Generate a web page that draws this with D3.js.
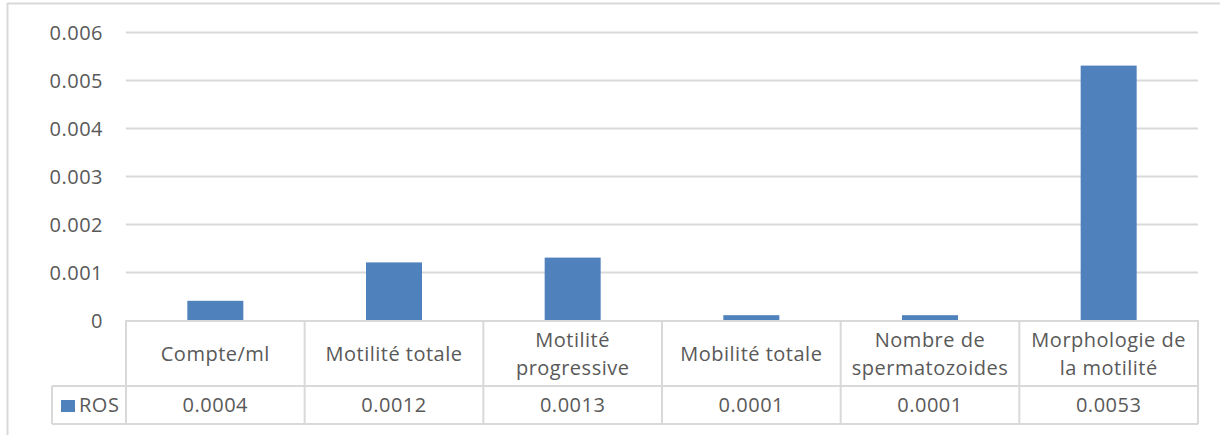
<!DOCTYPE html>
<html><head><meta charset="utf-8">
<script src="https://cdn.jsdelivr.net/npm/d3@7"></script>
<style>
html,body{margin:0;padding:0;background:#fff;}
svg{display:block;}
text{font-family:"Open Sans",Lato,"Liberation Sans",sans-serif;fill:#595959;letter-spacing:0.5px;}
</style></head><body>
<svg id="chart" width="1220" height="435"></svg>
<script>
const categories = [["Compte/ml"],["Motilité totale"],["Motilité","progressive"],["Mobilité totale"],["Nombre de","spermatozoides"],["Morphologie de","la motilité"]];
const seriesName = "ROS";
const values = [0.0004, 0.0012, 0.0013, 0.0001, 0.0001, 0.0053];
const valueLabels = ["0.0004","0.0012","0.0013","0.0001","0.0001","0.0053"];
const yTicks = [0, 0.001, 0.002, 0.003, 0.004, 0.005, 0.006];

(function(){
const svg = d3.select("#chart");
const grid = "#d9d9d9", color = "#4f81bd";
const pLeft = 126, pRight = 1198, pTop = 32, base = 320;
const catBottom = 386, tableBottom = 424, legendLeft = 52;
const fs = 20;
const ff = "'Open Sans',Lato,'Liberation Sans',sans-serif";

svg.append("line").attr("x1",7.5).attr("x2",7.5).attr("y1",3).attr("y2",435).attr("stroke",grid).attr("stroke-width",2);
svg.append("line").attr("x1",7).attr("x2",1220).attr("y1",3.5).attr("y2",3.5).attr("stroke",grid).attr("stroke-width",2);

const x = d3.scaleBand().domain(d3.range(categories.length)).range([pLeft,pRight]).paddingInner(0).paddingOuter(0);
const y = d3.scaleLinear().domain([0,0.006]).range([base,pTop]);

svg.append("g").selectAll("line").data(yTicks.slice(1)).join("line")
  .attr("x1",pLeft).attr("x2",pRight).attr("y1",d=>Math.round(y(d))+0.5).attr("y2",d=>Math.round(y(d))+0.5)
  .attr("stroke",grid).attr("stroke-width",2);

const yAxis = d3.axisLeft(y).tickValues(yTicks).tickFormat(d=>d===0?"0":d3.format(".3f")(d)).tickSize(0).tickPadding(0);
const ya = svg.append("g").attr("transform",`translate(103,0)`).call(yAxis);
ya.select(".domain").remove();
ya.selectAll("text").attr("font-size",fs).attr("fill","#595959").attr("dy","0.35em").style("font-family",ff);

const bw = 56;
svg.append("g").selectAll("rect").data(values).join("rect")
  .attr("x",(d,i)=>x(i)+x.bandwidth()/2-bw/2).attr("width",bw)
  .attr("y",d=>y(d)).attr("height",d=>base-y(d)).attr("fill",color);

const t = svg.append("g").attr("stroke",grid).attr("stroke-width",2);
t.append("line").attr("x1",pLeft).attr("x2",pRight).attr("y1",base+1).attr("y2",base+1);
t.append("line").attr("x1",legendLeft).attr("x2",pRight).attr("y1",catBottom).attr("y2",catBottom);
t.append("line").attr("x1",legendLeft).attr("x2",pRight).attr("y1",tableBottom).attr("y2",tableBottom);
t.append("line").attr("x1",legendLeft).attr("x2",legendLeft).attr("y1",catBottom).attr("y2",tableBottom);
const seps = d3.range(categories.length+1).map(i=> i<categories.length ? x(i) : pRight);
t.selectAll(".sep").data(seps).join("line").attr("x1",d=>d).attr("x2",d=>d).attr("y1",base).attr("y2",tableBottom);

const cg = svg.append("g");
categories.forEach((lines,i)=>{
  const cx = x(i)+x.bandwidth()/2;
  const mid = (base+catBottom)/2 + 1;
  const lh = 28;
  lines.forEach((ln,j)=>{
    cg.append("text").attr("x",cx).attr("y",mid + (j-(lines.length-1)/2)*lh).attr("dy","0.35em")
      .attr("text-anchor","middle").attr("font-size",fs).text(ln);
  });
});

svg.append("g").selectAll("text").data(valueLabels).join("text")
  .attr("x",(d,i)=>x(i)+x.bandwidth()/2).attr("y",(catBottom+tableBottom)/2).attr("dy","0.35em")
  .attr("text-anchor","middle").attr("font-size",fs).text(d=>d);

svg.append("rect").attr("x",61).attr("y",400).attr("width",14).attr("height",12).attr("fill",color);
svg.append("text").attr("x",79).attr("y",(catBottom+tableBottom)/2).attr("dy","0.35em").attr("font-size",fs).text(seriesName);
})();
</script></body></html>
